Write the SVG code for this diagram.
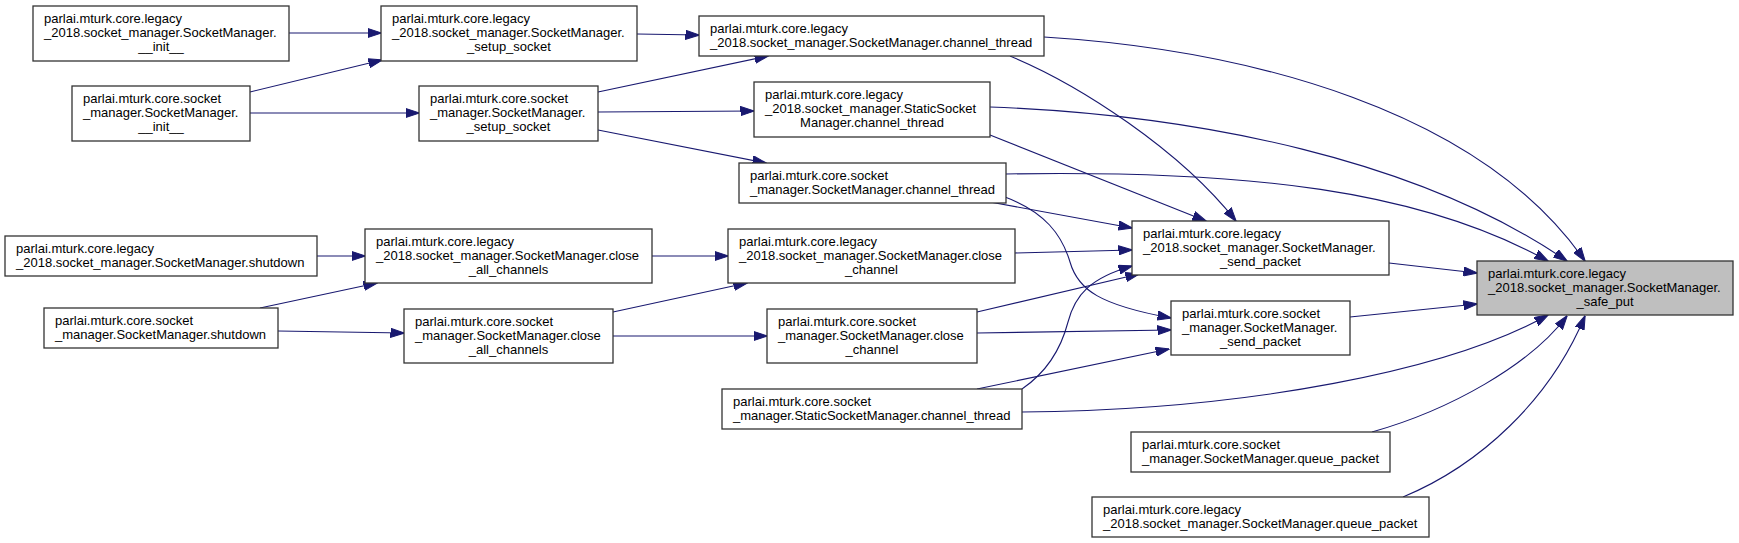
<svg xmlns="http://www.w3.org/2000/svg" width="1739" height="543" viewBox="0 0 1739 543">
<style>
.n rect{fill:#ffffff;stroke:#333333;stroke-width:1.3}
.n.t rect{fill:#bfbfbf}
.n text{font-family:"Liberation Sans",Arial,Helvetica,sans-serif;font-size:13px;fill:#000000}
.n text.c{text-anchor:middle}
.e path{fill:none;stroke:#191970;stroke-width:1.1;marker-end:url(#ah)}
</style>
<defs>
<marker id="ah" viewBox="0 0 14 10" refX="13.5" refY="5" markerWidth="14" markerHeight="10" markerUnits="userSpaceOnUse" orient="auto">
<path d="M0,0.4 L14,5 L0,9.6 Z" fill="#191970" stroke="#191970" stroke-width="1"/>
</marker>
</defs>
<rect width="1739" height="543" fill="#ffffff"/>
<g id="connectors" class="e">
<path d="M289,33 L381,33"/>
<path d="M250,92 L382,60"/>
<path d="M250,113 L419,113"/>
<path d="M637,34 L699,35"/>
<path d="M598,92 L768,56"/>
<path d="M598,112 L754,111"/>
<path d="M598,130 L766,163"/>
<path d="M317,256 L365,256"/>
<path d="M260,308 L377,283"/>
<path d="M278,331 L404,333"/>
<path d="M652,256 L728,256"/>
<path d="M613,312 L747,283"/>
<path d="M613,336 L767,336"/>
<path d="M1010,56 C1080,85 1180,150 1236,221"/>
<path d="M1044,37 C1250,50 1480,110 1585,261"/>
<path d="M990,107 C1200,115 1420,160 1567,261"/>
<path d="M1006,174 C1250,170 1420,190 1548,261"/>
<path d="M990,135 L1206,221"/>
<path d="M990,202 L1132,228"/>
<path d="M1005,197 C1045,212 1062,235 1070,262 C1078,290 1100,305 1171,318"/>
<path d="M1015,253 L1132,250"/>
<path d="M977,312 L1139,274"/>
<path d="M977,333 L1171,330"/>
<path d="M1022,389 C1050,370 1062,345 1068,322 C1075,295 1090,278 1132,266"/>
<path d="M977,389 L1169,349"/>
<path d="M1022,412 C1250,410 1450,370 1548,315"/>
<path d="M1389,263 L1477,273"/>
<path d="M1350,317 L1477,304"/>
<path d="M1372,432 C1450,410 1530,365 1567,316"/>
<path d="M1403,497 C1480,465 1550,400 1585,316"/>
</g>
<g id="node_legacy_init" class="n"><rect x="33" y="6" width="256" height="55"/><text x="44" y="22.7">parlai.mturk.core.legacy</text><text x="44" y="37">_2018.socket_manager.SocketManager.</text><text class="c" x="161" y="51">__init__</text></g>
<g id="node_socket_init" class="n"><rect x="72" y="86" width="178" height="55"/><text x="83" y="102.7">parlai.mturk.core.socket</text><text x="83" y="117">_manager.SocketManager.</text><text class="c" x="161" y="131">__init__</text></g>
<g id="node_legacy_setup_socket" class="n"><rect x="381" y="6" width="256" height="55"/><text x="392" y="22.7">parlai.mturk.core.legacy</text><text x="392" y="37">_2018.socket_manager.SocketManager.</text><text class="c" x="509" y="51">_setup_socket</text></g>
<g id="node_socket_setup_socket" class="n"><rect x="419" y="86" width="179" height="55"/><text x="430" y="102.7">parlai.mturk.core.socket</text><text x="430" y="117">_manager.SocketManager.</text><text class="c" x="508.5" y="131">_setup_socket</text></g>
<g id="node_legacy_shutdown" class="n"><rect x="5" y="236" width="312" height="40"/><text x="16" y="252.7">parlai.mturk.core.legacy</text><text x="16" y="267">_2018.socket_manager.SocketManager.shutdown</text></g>
<g id="node_legacy_close_all_channels" class="n"><rect x="365" y="229" width="287" height="54"/><text x="376" y="245.7">parlai.mturk.core.legacy</text><text x="376" y="260">_2018.socket_manager.SocketManager.close</text><text class="c" x="508.5" y="274">_all_channels</text></g>
<g id="node_socket_shutdown" class="n"><rect x="44" y="308" width="234" height="40"/><text x="55" y="324.7">parlai.mturk.core.socket</text><text x="55" y="339">_manager.SocketManager.shutdown</text></g>
<g id="node_socket_close_all_channels" class="n"><rect x="404" y="309" width="209" height="54"/><text x="415" y="325.7">parlai.mturk.core.socket</text><text x="415" y="340">_manager.SocketManager.close</text><text class="c" x="508.5" y="354">_all_channels</text></g>
<g id="node_legacy_channel_thread" class="n"><rect x="699" y="16" width="345" height="40"/><text x="710" y="32.7">parlai.mturk.core.legacy</text><text x="710" y="47">_2018.socket_manager.SocketManager.channel_thread</text></g>
<g id="node_legacy_static_channel_thread" class="n"><rect x="754" y="82" width="236" height="55"/><text x="765" y="98.7">parlai.mturk.core.legacy</text><text x="765" y="113">_2018.socket_manager.StaticSocket</text><text class="c" x="872" y="127">Manager.channel_thread</text></g>
<g id="node_socket_channel_thread" class="n"><rect x="739" y="163" width="267" height="40"/><text x="750" y="179.7">parlai.mturk.core.socket</text><text x="750" y="194">_manager.SocketManager.channel_thread</text></g>
<g id="node_legacy_close_channel" class="n"><rect x="728" y="229" width="287" height="54"/><text x="739" y="245.7">parlai.mturk.core.legacy</text><text x="739" y="260">_2018.socket_manager.SocketManager.close</text><text class="c" x="871.5" y="274">_channel</text></g>
<g id="node_socket_close_channel" class="n"><rect x="767" y="309" width="210" height="54"/><text x="778" y="325.7">parlai.mturk.core.socket</text><text x="778" y="340">_manager.SocketManager.close</text><text class="c" x="872" y="354">_channel</text></g>
<g id="node_socket_static_channel_thread" class="n"><rect x="722" y="389" width="300" height="40"/><text x="733" y="405.7">parlai.mturk.core.socket</text><text x="733" y="420">_manager.StaticSocketManager.channel_thread</text></g>
<g id="node_legacy_send_packet" class="n"><rect x="1132" y="221" width="257" height="54"/><text x="1143" y="237.7">parlai.mturk.core.legacy</text><text x="1143" y="252">_2018.socket_manager.SocketManager.</text><text class="c" x="1260.5" y="266">_send_packet</text></g>
<g id="node_socket_send_packet" class="n"><rect x="1171" y="301" width="179" height="54"/><text x="1182" y="317.7">parlai.mturk.core.socket</text><text x="1182" y="332">_manager.SocketManager.</text><text class="c" x="1260.5" y="346">_send_packet</text></g>
<g id="node_socket_queue_packet" class="n"><rect x="1131" y="432" width="259" height="40"/><text x="1142" y="448.7">parlai.mturk.core.socket</text><text x="1142" y="463">_manager.SocketManager.queue_packet</text></g>
<g id="node_legacy_queue_packet" class="n"><rect x="1092" y="497" width="337" height="40"/><text x="1103" y="513.7">parlai.mturk.core.legacy</text><text x="1103" y="528">_2018.socket_manager.SocketManager.queue_packet</text></g>
<g id="node_legacy_safe_put" class="n t"><rect x="1477" y="261" width="256" height="54"/><text x="1488" y="277.7">parlai.mturk.core.legacy</text><text x="1488" y="292">_2018.socket_manager.SocketManager.</text><text class="c" x="1605" y="306">_safe_put</text></g>
</svg>
